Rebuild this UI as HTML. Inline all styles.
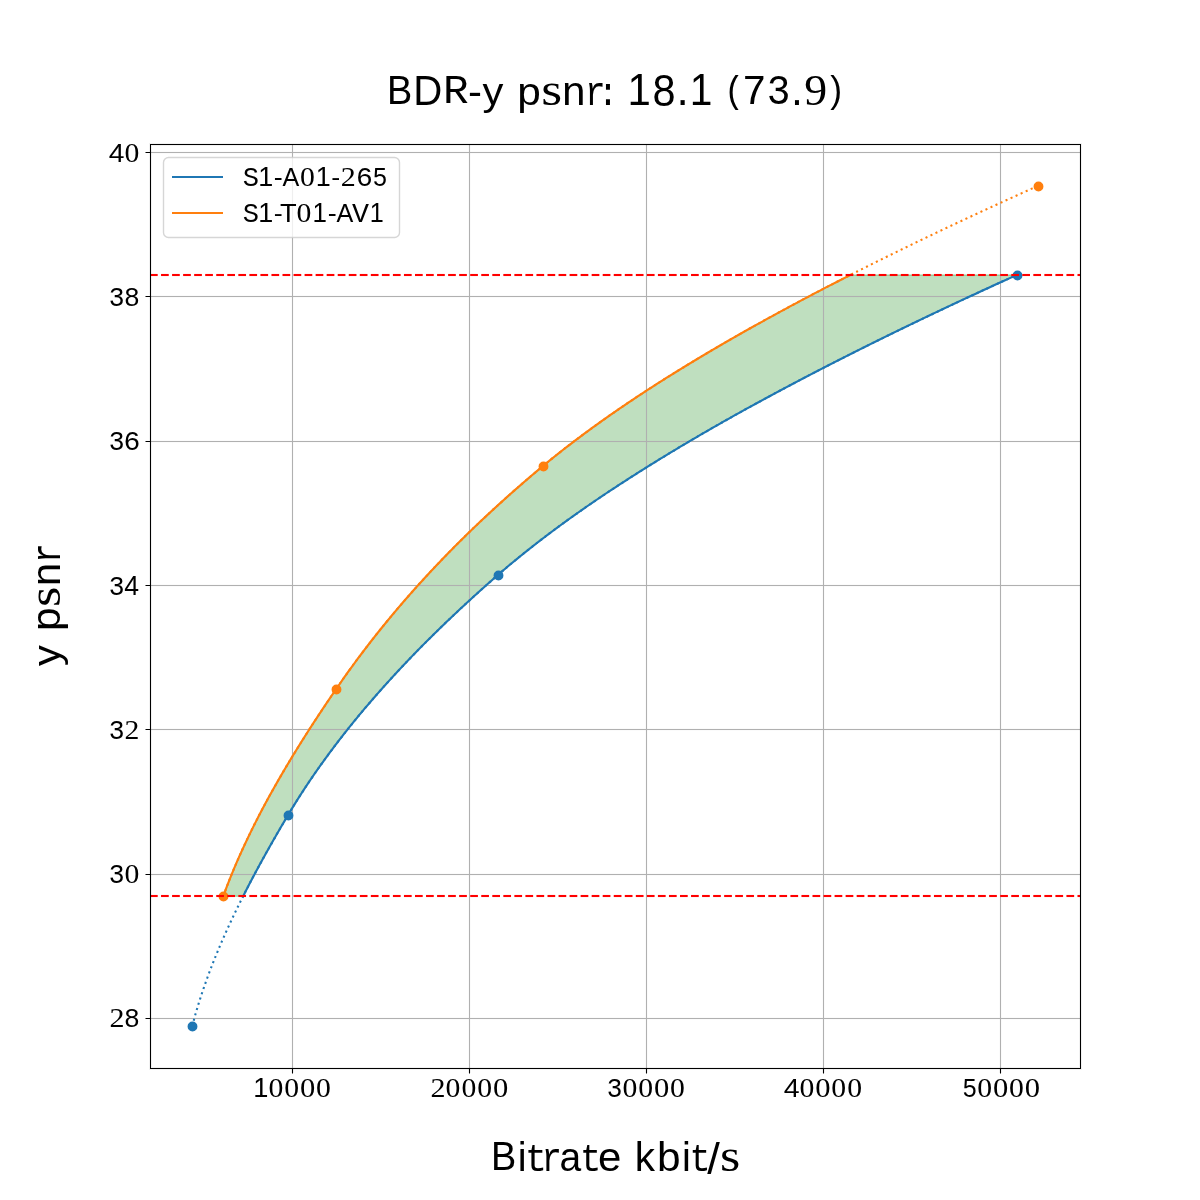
<!DOCTYPE html><html><head><meta charset="utf-8"><style>html,body{margin:0;padding:0;background:#fff;width:1200px;height:1200px;overflow:hidden}svg{display:block;will-change:transform}text{font-family:"Liberation Sans",sans-serif;fill:#000}text.mono{font-family:"Liberation Mono",monospace}text.serif{font-family:"Liberation Serif",serif}</style></head><body>
<svg width="1200" height="1200" viewBox="0 0 1200 1200">
<rect x="0" y="0" width="1200" height="1200" fill="#fff"/>
<polygon points="223.24,896.28 224.38,893.16 225.53,890.04 226.71,886.91 227.91,883.79 229.13,880.67 230.37,877.55 231.64,874.43 232.92,871.3 234.22,868.18 235.54,865.06 236.88,861.94 238.24,858.81 239.62,855.69 241.02,852.57 242.44,849.45 243.88,846.33 245.33,843.2 246.81,840.08 248.3,836.96 249.81,833.84 251.33,830.71 252.88,827.59 254.44,824.47 256.02,821.35 257.62,818.23 259.23,815.1 260.86,811.98 262.51,808.86 264.17,805.74 265.85,802.61 267.54,799.49 269.25,796.37 270.98,793.25 272.72,790.12 274.47,787 276.25,783.88 278.03,780.76 279.83,777.64 281.65,774.51 283.47,771.39 285.32,768.27 287.17,765.15 289.04,762.02 290.92,758.9 292.82,755.78 294.73,752.66 296.65,749.54 298.59,746.41 300.53,743.29 302.49,740.17 304.46,737.05 306.45,733.92 308.44,730.8 310.45,727.68 312.46,724.56 314.49,721.44 316.53,718.31 318.58,715.19 320.64,712.07 322.71,708.95 324.79,705.82 326.88,702.7 328.98,699.58 331.09,696.46 333.21,693.34 335.34,690.21 337.48,687.09 339.64,683.97 341.81,680.85 344.01,677.72 346.22,674.6 348.45,671.48 350.71,668.36 352.98,665.24 355.27,662.11 357.58,658.99 359.91,655.87 362.26,652.75 364.63,649.62 367.02,646.5 369.42,643.38 371.85,640.26 374.3,637.14 376.77,634.01 379.26,630.89 381.78,627.77 384.31,624.65 386.86,621.52 389.44,618.4 392.03,615.28 394.65,612.16 397.29,609.04 399.95,605.91 402.63,602.79 405.33,599.67 408.05,596.55 410.8,593.42 413.57,590.3 416.36,587.18 419.17,584.06 422.01,580.94 424.87,577.81 427.75,574.69 430.65,571.57 433.58,568.45 436.53,565.32 439.5,562.2 442.49,559.08 445.51,555.96 448.56,552.84 451.62,549.71 454.71,546.59 457.82,543.47 460.96,540.35 464.12,537.22 467.31,534.1 470.52,530.98 473.75,527.86 477.01,524.74 480.29,521.61 483.6,518.49 486.93,515.37 490.29,512.25 493.68,509.12 497.08,506 500.52,502.88 503.98,499.76 507.46,496.64 510.97,493.51 514.5,490.39 518.07,487.27 521.65,484.15 525.27,481.02 528.91,477.9 532.57,474.78 536.27,471.66 539.99,468.53 543.73,465.41 547.52,462.29 551.35,459.17 555.23,456.05 559.15,452.92 563.12,449.8 567.13,446.68 571.19,443.56 575.29,440.43 579.44,437.31 583.63,434.19 587.86,431.07 592.14,427.95 596.46,424.82 600.82,421.7 605.23,418.58 609.68,415.46 614.17,412.33 618.7,409.21 623.28,406.09 627.9,402.97 632.56,399.85 637.26,396.72 642,393.6 646.78,390.48 651.6,387.36 656.47,384.23 661.37,381.11 666.31,377.99 671.3,374.87 676.32,371.75 681.38,368.62 686.48,365.5 691.62,362.38 696.8,359.26 702.01,356.13 707.27,353.01 712.56,349.89 717.89,346.77 723.25,343.65 728.66,340.52 734.1,337.4 739.58,334.28 745.09,331.16 750.64,328.03 756.23,324.91 761.85,321.79 767.51,318.67 773.2,315.55 778.93,312.42 784.7,309.3 790.49,306.18 796.33,303.06 802.19,299.93 808.1,296.81 814.03,293.69 820,290.57 826,287.45 832.03,284.32 838.1,281.2 844.2,278.08 850.34,274.96 1016.66,274.96 1009.79,278.08 1002.95,281.2 996.13,284.32 989.33,287.45 982.56,290.57 975.81,293.69 969.09,296.81 962.4,299.93 955.73,303.06 949.08,306.18 942.47,309.3 935.87,312.42 929.31,315.55 922.77,318.67 916.26,321.79 909.77,324.91 903.32,328.03 896.89,331.16 890.49,334.28 884.11,337.4 877.77,340.52 871.45,343.65 865.16,346.77 858.9,349.89 852.67,353.01 846.47,356.13 840.3,359.26 834.16,362.38 828.05,365.5 821.97,368.62 815.92,371.75 809.9,374.87 803.91,377.99 797.95,381.11 792.02,384.23 786.13,387.36 780.26,390.48 774.43,393.6 768.63,396.72 762.86,399.85 757.13,402.97 751.43,406.09 745.76,409.21 740.12,412.33 734.52,415.46 728.95,418.58 723.42,421.7 717.92,424.82 712.45,427.95 707.02,431.07 701.62,434.19 696.26,437.31 690.93,440.43 685.64,443.56 680.39,446.68 675.17,449.8 669.98,452.92 664.83,456.05 659.72,459.17 654.65,462.29 649.61,465.41 644.61,468.53 639.65,471.66 634.72,474.78 629.84,477.9 624.99,481.02 620.17,484.15 615.4,487.27 610.67,490.39 605.97,493.51 601.32,496.64 596.7,499.76 592.12,502.88 587.58,506 583.09,509.12 578.63,512.25 574.21,515.37 569.83,518.49 565.5,521.61 561.2,524.74 556.95,527.86 552.74,530.98 548.57,534.1 544.44,537.22 540.35,540.35 536.31,543.47 532.31,546.59 528.35,549.71 524.44,552.84 520.56,555.96 516.73,559.08 512.95,562.2 509.21,565.32 505.51,568.45 501.86,571.57 498.25,574.69 494.67,577.81 491.12,580.94 487.59,584.06 484.08,587.18 480.6,590.3 477.13,593.42 473.69,596.55 470.27,599.67 466.87,602.79 463.49,605.91 460.13,609.04 456.8,612.16 453.48,615.28 450.19,618.4 446.92,621.52 443.68,624.65 440.45,627.77 437.25,630.89 434.07,634.01 430.91,637.14 427.77,640.26 424.66,643.38 421.56,646.5 418.49,649.62 415.44,652.75 412.42,655.87 409.41,658.99 406.43,662.11 403.47,665.24 400.53,668.36 397.62,671.48 394.73,674.6 391.86,677.72 389.01,680.85 386.18,683.97 383.38,687.09 380.6,690.21 377.84,693.34 375.1,696.46 372.39,699.58 369.7,702.7 367.03,705.82 364.38,708.95 361.76,712.07 359.16,715.19 356.58,718.31 354.02,721.44 351.49,724.56 348.98,727.68 346.49,730.8 344.03,733.92 341.59,737.05 339.17,740.17 336.77,743.29 334.4,746.41 332.05,749.54 329.72,752.66 327.42,755.78 325.14,758.9 322.88,762.02 320.64,765.15 318.43,768.27 316.24,771.39 314.07,774.51 311.93,777.64 309.81,780.76 307.71,783.88 305.64,787 303.59,790.12 301.56,793.25 299.56,796.37 297.57,799.49 295.62,802.61 293.68,805.74 291.77,808.86 289.88,811.98 288.02,815.1 286.17,818.23 284.33,821.35 282.49,824.47 280.67,827.59 278.85,830.71 277.04,833.84 275.25,836.96 273.46,840.08 271.68,843.2 269.91,846.33 268.15,849.45 266.4,852.57 264.66,855.69 262.93,858.81 261.21,861.94 259.5,865.06 257.81,868.18 256.12,871.3 254.45,874.43 252.79,877.55 251.14,880.67 249.51,883.79 247.89,886.91 246.28,890.04 244.68,893.16 243.1,896.28" fill="#008000" fill-opacity="0.25" stroke="#008000" stroke-opacity="0.25" stroke-width="1.3889" stroke-linejoin="round"/>
<path d="M292.5 144V1068M469.5 144V1068M646.5 144V1068M823.5 144V1068M1000.5 144V1068M150 152.5H1080M150 296.5H1080M150 441.5H1080M150 585.5H1080M150 729.5H1080M150 874.5H1080M150 1018.5H1080" stroke="#b0b0b0" stroke-width="1" fill="none"/>
<path d="M291.5 144V1068M293.5 144V1068M468.5 144V1068M470.5 144V1068M645.5 144V1068M647.5 144V1068M822.5 144V1068M824.5 144V1068M999.5 144V1068M1001.5 144V1068M150 151.5H1080M150 153.5H1080M150 295.5H1080M150 297.5H1080M150 440.5H1080M150 442.5H1080M150 584.5H1080M150 586.5H1080M150 728.5H1080M150 730.5H1080M150 873.5H1080M150 875.5H1080M150 1017.5H1080M150 1019.5H1080" stroke="#b0b0b0" stroke-opacity="0.0555" stroke-width="1" fill="none"/>
<g>
<polyline points="243.1,896.28 244.68,893.16 246.28,890.04 247.89,886.91 249.51,883.79 251.14,880.67 252.79,877.55 254.45,874.43 256.12,871.3 257.81,868.18 259.5,865.06 261.21,861.94 262.93,858.81 264.66,855.69 266.4,852.57 268.15,849.45 269.91,846.33 271.68,843.2 273.46,840.08 275.25,836.96 277.04,833.84 278.85,830.71 280.67,827.59 282.49,824.47 284.33,821.35 286.17,818.23 288.02,815.1 289.88,811.98 291.77,808.86 293.68,805.74 295.62,802.61 297.57,799.49 299.56,796.37 301.56,793.25 303.59,790.12 305.64,787 307.71,783.88 309.81,780.76 311.93,777.64 314.07,774.51 316.24,771.39 318.43,768.27 320.64,765.15 322.88,762.02 325.14,758.9 327.42,755.78 329.72,752.66 332.05,749.54 334.4,746.41 336.77,743.29 339.17,740.17 341.59,737.05 344.03,733.92 346.49,730.8 348.98,727.68 351.49,724.56 354.02,721.44 356.58,718.31 359.16,715.19 361.76,712.07 364.38,708.95 367.03,705.82 369.7,702.7 372.39,699.58 375.1,696.46 377.84,693.34 380.6,690.21 383.38,687.09 386.18,683.97 389.01,680.85 391.86,677.72 394.73,674.6 397.62,671.48 400.53,668.36 403.47,665.24 406.43,662.11 409.41,658.99 412.42,655.87 415.44,652.75 418.49,649.62 421.56,646.5 424.66,643.38 427.77,640.26 430.91,637.14 434.07,634.01 437.25,630.89 440.45,627.77 443.68,624.65 446.92,621.52 450.19,618.4 453.48,615.28 456.8,612.16 460.13,609.04 463.49,605.91 466.87,602.79 470.27,599.67 473.69,596.55 477.13,593.42 480.6,590.3 484.08,587.18 487.59,584.06 491.12,580.94 494.67,577.81 498.25,574.69 501.86,571.57 505.51,568.45 509.21,565.32 512.95,562.2 516.73,559.08 520.56,555.96 524.44,552.84 528.35,549.71 532.31,546.59 536.31,543.47 540.35,540.35 544.44,537.22 548.57,534.1 552.74,530.98 556.95,527.86 561.2,524.74 565.5,521.61 569.83,518.49 574.21,515.37 578.63,512.25 583.09,509.12 587.58,506 592.12,502.88 596.7,499.76 601.32,496.64 605.97,493.51 610.67,490.39 615.4,487.27 620.17,484.15 624.99,481.02 629.84,477.9 634.72,474.78 639.65,471.66 644.61,468.53 649.61,465.41 654.65,462.29 659.72,459.17 664.83,456.05 669.98,452.92 675.17,449.8 680.39,446.68 685.64,443.56 690.93,440.43 696.26,437.31 701.62,434.19 707.02,431.07 712.45,427.95 717.92,424.82 723.42,421.7 728.95,418.58 734.52,415.46 740.12,412.33 745.76,409.21 751.43,406.09 757.13,402.97 762.86,399.85 768.63,396.72 774.43,393.6 780.26,390.48 786.13,387.36 792.02,384.23 797.95,381.11 803.91,377.99 809.9,374.87 815.92,371.75 821.97,368.62 828.05,365.5 834.16,362.38 840.3,359.26 846.47,356.13 852.67,353.01 858.9,349.89 865.16,346.77 871.45,343.65 877.77,340.52 884.11,337.4 890.49,334.28 896.89,331.16 903.32,328.03 909.77,324.91 916.26,321.79 922.77,318.67 929.31,315.55 935.87,312.42 942.47,309.3 949.08,306.18 955.73,303.06 962.4,299.93 969.09,296.81 975.81,293.69 982.56,290.57 989.33,287.45 996.13,284.32 1002.95,281.2 1009.79,278.08 1016.66,274.96" fill="none" stroke="#1f77b4" stroke-width="2.0833" stroke-linejoin="round" stroke-linecap="square"/>
<polyline points="192.27,1026 192.93,1023.49 193.6,1020.98 194.28,1018.46 194.98,1015.95 195.69,1013.44 196.42,1010.93 197.16,1008.42 197.92,1005.91 198.69,1003.39 199.48,1000.88 200.28,998.37 201.09,995.86 201.92,993.35 202.76,990.83 203.61,988.32 204.48,985.81 205.36,983.3 206.25,980.79 207.16,978.27 208.08,975.76 209.01,973.25 209.95,970.74 210.91,968.23 211.88,965.72 212.86,963.2 213.86,960.69 214.86,958.18 215.88,955.67 216.91,953.16 217.95,950.64 219,948.13 220.07,945.62 221.14,943.11 222.23,940.6 223.33,938.09 224.44,935.57 225.55,933.06 226.68,930.55 227.82,928.04 228.98,925.53 230.14,923.01 231.31,920.5 232.49,917.99 233.68,915.48 234.88,912.97 236.09,910.45 237.31,907.94 238.54,905.43 239.78,902.92 241.03,900.41 242.29,897.9 243.55,895.38 244.83,892.87 246.11,890.36 247.4,887.85 248.71,885.34 250.01,882.82 251.33,880.31 252.66,877.8 253.99,875.29 255.33,872.78 256.68,870.27 258.04,867.75 259.4,865.24 260.78,862.73 262.15,860.22 263.54,857.71 264.93,855.19 266.33,852.68 267.74,850.17 269.15,847.66 270.57,845.15 272,842.63 273.43,840.12 274.87,837.61 276.32,835.1 277.77,832.59 279.22,830.08 280.69,827.56 282.15,825.05 283.63,822.54 285.1,820.03 286.59,817.52 288.08,815 289.58,812.49 291.09,809.98 292.62,807.47 294.16,804.96 295.72,802.45 297.3,799.93 298.89,797.42 300.49,794.91 302.11,792.4 303.74,789.89 305.39,787.37 307.06,784.86 308.74,782.35 310.43,779.84 312.14,777.33 313.87,774.81 315.6,772.3 317.36,769.79 319.13,767.28 320.91,764.77 322.71,762.26 324.53,759.74 326.35,757.23 328.2,754.72 330.06,752.21 331.93,749.7 333.82,747.18 335.72,744.67 337.64,742.16 339.57,739.65 341.52,737.14 343.48,734.63 345.46,732.11 347.45,729.6 349.45,727.09 351.48,724.58 353.51,722.07 355.56,719.55 357.63,717.04 359.71,714.53 361.8,712.02 363.91,709.51 366.03,706.99 368.17,704.48 370.33,701.97 372.49,699.46 374.67,696.95 376.87,694.44 379.08,691.92 381.31,689.41 383.55,686.9 385.8,684.39 388.07,681.88 390.36,679.36 392.65,676.85 394.97,674.34 397.29,671.83 399.64,669.32 401.99,666.81 404.36,664.29 406.75,661.78 409.15,659.27 411.56,656.76 413.99,654.25 416.43,651.73 418.89,649.22 421.36,646.71 423.84,644.2 426.34,641.69 428.86,639.17 431.39,636.66 433.93,634.15 436.48,631.64 439.06,629.13 441.64,626.62 444.24,624.1 446.85,621.59 449.48,619.08 452.12,616.57 454.78,614.06 457.45,611.54 460.13,609.03 462.83,606.52 465.55,604.01 468.27,601.5 471.01,598.99 473.77,596.47 476.54,593.96 479.32,591.45 482.12,588.94 484.93,586.43 487.75,583.91 490.59,581.4 493.45,578.89 496.31,576.38 499.2,573.87 502.11,571.35 505.04,568.84 508.01,566.33 511.01,563.82 514.03,561.31 517.08,558.8 520.16,556.28 523.27,553.77 526.41,551.26 529.57,548.75 532.76,546.24 535.98,543.72 539.23,541.21 542.5,538.7 545.8,536.19 549.13,533.68 552.49,531.17 555.87,528.65 559.28,526.14 562.72,523.63 566.18,521.12 569.67,518.61 573.19,516.09 576.73,513.58 580.3,511.07 583.9,508.56 587.52,506.05 591.17,503.53 594.84,501.02 598.54,498.51 602.26,496 606.01,493.49 609.78,490.98 613.58,488.46 617.41,485.95 621.26,483.44 625.13,480.93 629.03,478.42 632.96,475.9 636.91,473.39 640.88,470.88 644.88,468.37 648.9,465.86 652.94,463.35 657.01,460.83 661.11,458.32 665.22,455.81 669.36,453.3 673.53,450.79 677.71,448.27 681.93,445.76 686.16,443.25 690.42,440.74 694.7,438.23 699,435.71 703.32,433.2 707.67,430.69 712.04,428.18 716.43,425.67 720.85,423.16 725.29,420.64 729.75,418.13 734.23,415.62 738.73,413.11 743.26,410.6 747.8,408.08 752.37,405.57 756.96,403.06 761.57,400.55 766.2,398.04 770.85,395.53 775.53,393.01 780.22,390.5 784.93,387.99 789.67,385.48 794.43,382.97 799.2,380.45 804,377.94 808.81,375.43 813.65,372.92 818.51,370.41 823.38,367.89 828.28,365.38 833.19,362.87 838.13,360.36 843.08,357.85 848.06,355.34 853.05,352.82 858.06,350.31 863.09,347.8 868.14,345.29 873.21,342.78 878.29,340.26 883.4,337.75 888.52,335.24 893.66,332.73 898.82,330.22 904,327.71 909.19,325.19 914.4,322.68 919.63,320.17 924.88,317.66 930.15,315.15 935.43,312.63 940.73,310.12 946.05,307.61 951.38,305.1 956.73,302.59 962.1,300.07 967.48,297.56 972.88,295.05 978.3,292.54 983.73,290.03 989.18,287.52 994.64,285 1000.13,282.49 1005.62,279.98 1011.13,277.47 1016.66,274.96" fill="none" stroke="#1f77b4" stroke-width="2.0833" stroke-dasharray="2.0833 3.4375" stroke-linejoin="round"/>
<circle cx="192.5" cy="1026.5" r="4.25" fill="#1f77b4" stroke="#1f77b4" stroke-width="1.3889"/>
<circle cx="288.5" cy="815.5" r="4.25" fill="#1f77b4" stroke="#1f77b4" stroke-width="1.3889"/>
<circle cx="498.5" cy="575.5" r="4.25" fill="#1f77b4" stroke="#1f77b4" stroke-width="1.3889"/>
<circle cx="1017.5" cy="275.5" r="4.25" fill="#1f77b4" stroke="#1f77b4" stroke-width="1.3889"/>
<polyline points="223.24,896.28 224.38,893.16 225.53,890.04 226.71,886.91 227.91,883.79 229.13,880.67 230.37,877.55 231.64,874.43 232.92,871.3 234.22,868.18 235.54,865.06 236.88,861.94 238.24,858.81 239.62,855.69 241.02,852.57 242.44,849.45 243.88,846.33 245.33,843.2 246.81,840.08 248.3,836.96 249.81,833.84 251.33,830.71 252.88,827.59 254.44,824.47 256.02,821.35 257.62,818.23 259.23,815.1 260.86,811.98 262.51,808.86 264.17,805.74 265.85,802.61 267.54,799.49 269.25,796.37 270.98,793.25 272.72,790.12 274.47,787 276.25,783.88 278.03,780.76 279.83,777.64 281.65,774.51 283.47,771.39 285.32,768.27 287.17,765.15 289.04,762.02 290.92,758.9 292.82,755.78 294.73,752.66 296.65,749.54 298.59,746.41 300.53,743.29 302.49,740.17 304.46,737.05 306.45,733.92 308.44,730.8 310.45,727.68 312.46,724.56 314.49,721.44 316.53,718.31 318.58,715.19 320.64,712.07 322.71,708.95 324.79,705.82 326.88,702.7 328.98,699.58 331.09,696.46 333.21,693.34 335.34,690.21 337.48,687.09 339.64,683.97 341.81,680.85 344.01,677.72 346.22,674.6 348.45,671.48 350.71,668.36 352.98,665.24 355.27,662.11 357.58,658.99 359.91,655.87 362.26,652.75 364.63,649.62 367.02,646.5 369.42,643.38 371.85,640.26 374.3,637.14 376.77,634.01 379.26,630.89 381.78,627.77 384.31,624.65 386.86,621.52 389.44,618.4 392.03,615.28 394.65,612.16 397.29,609.04 399.95,605.91 402.63,602.79 405.33,599.67 408.05,596.55 410.8,593.42 413.57,590.3 416.36,587.18 419.17,584.06 422.01,580.94 424.87,577.81 427.75,574.69 430.65,571.57 433.58,568.45 436.53,565.32 439.5,562.2 442.49,559.08 445.51,555.96 448.56,552.84 451.62,549.71 454.71,546.59 457.82,543.47 460.96,540.35 464.12,537.22 467.31,534.1 470.52,530.98 473.75,527.86 477.01,524.74 480.29,521.61 483.6,518.49 486.93,515.37 490.29,512.25 493.68,509.12 497.08,506 500.52,502.88 503.98,499.76 507.46,496.64 510.97,493.51 514.5,490.39 518.07,487.27 521.65,484.15 525.27,481.02 528.91,477.9 532.57,474.78 536.27,471.66 539.99,468.53 543.73,465.41 547.52,462.29 551.35,459.17 555.23,456.05 559.15,452.92 563.12,449.8 567.13,446.68 571.19,443.56 575.29,440.43 579.44,437.31 583.63,434.19 587.86,431.07 592.14,427.95 596.46,424.82 600.82,421.7 605.23,418.58 609.68,415.46 614.17,412.33 618.7,409.21 623.28,406.09 627.9,402.97 632.56,399.85 637.26,396.72 642,393.6 646.78,390.48 651.6,387.36 656.47,384.23 661.37,381.11 666.31,377.99 671.3,374.87 676.32,371.75 681.38,368.62 686.48,365.5 691.62,362.38 696.8,359.26 702.01,356.13 707.27,353.01 712.56,349.89 717.89,346.77 723.25,343.65 728.66,340.52 734.1,337.4 739.58,334.28 745.09,331.16 750.64,328.03 756.23,324.91 761.85,321.79 767.51,318.67 773.2,315.55 778.93,312.42 784.7,309.3 790.49,306.18 796.33,303.06 802.19,299.93 808.1,296.81 814.03,293.69 820,290.57 826,287.45 832.03,284.32 838.1,281.2 844.2,278.08 850.34,274.96" fill="none" stroke="#ff7f0e" stroke-width="2.0833" stroke-linejoin="round" stroke-linecap="square"/>
<polyline points="223.24,896.28 224.1,893.91 224.98,891.53 225.87,889.15 226.77,886.78 227.68,884.4 228.6,882.03 229.54,879.65 230.48,877.28 231.44,874.9 232.41,872.53 233.4,870.15 234.39,867.77 235.4,865.4 236.41,863.02 237.44,860.65 238.48,858.27 239.53,855.9 240.59,853.52 241.67,851.15 242.75,848.77 243.85,846.39 244.95,844.02 246.07,841.64 247.19,839.27 248.33,836.89 249.48,834.52 250.63,832.14 251.8,829.77 252.98,827.39 254.17,825.02 255.37,822.64 256.57,820.26 257.79,817.89 259.02,815.51 260.26,813.14 261.5,810.76 262.76,808.39 264.02,806.01 265.3,803.64 266.58,801.26 267.87,798.88 269.18,796.51 270.49,794.13 271.81,791.76 273.14,789.38 274.47,787.01 275.82,784.63 277.17,782.26 278.54,779.88 279.91,777.5 281.29,775.13 282.67,772.75 284.07,770.38 285.47,768 286.89,765.63 288.31,763.25 289.73,760.88 291.17,758.5 292.61,756.13 294.06,753.75 295.52,751.37 296.98,749 298.46,746.62 299.94,744.25 301.42,741.87 302.92,739.5 304.42,737.12 305.92,734.75 307.44,732.37 308.96,729.99 310.49,727.62 312.02,725.24 313.56,722.87 315.11,720.49 316.66,718.12 318.22,715.74 319.78,713.37 321.36,710.99 322.93,708.61 324.52,706.24 326.1,703.86 327.7,701.49 329.3,699.11 330.9,696.74 332.52,694.36 334.13,691.99 335.75,689.61 337.38,687.23 339.02,684.86 340.67,682.48 342.33,680.11 344,677.73 345.68,675.36 347.38,672.98 349.08,670.61 350.8,668.23 352.52,665.86 354.26,663.48 356.01,661.1 357.77,658.73 359.54,656.35 361.33,653.98 363.12,651.6 364.93,649.23 366.75,646.85 368.58,644.48 370.42,642.1 372.27,639.72 374.14,637.35 376.01,634.97 377.9,632.6 379.8,630.22 381.71,627.85 383.64,625.47 385.57,623.1 387.52,620.72 389.48,618.34 391.46,615.97 393.44,613.59 395.44,611.22 397.45,608.84 399.47,606.47 401.51,604.09 403.55,601.72 405.61,599.34 407.69,596.97 409.77,594.59 411.87,592.21 413.98,589.84 416.11,587.46 418.24,585.09 420.39,582.71 422.55,580.34 424.73,577.96 426.92,575.59 429.12,573.21 431.34,570.83 433.57,568.46 435.81,566.08 438.06,563.71 440.33,561.33 442.61,558.96 444.91,556.58 447.22,554.21 449.54,551.83 451.88,549.45 454.23,547.08 456.59,544.7 458.97,542.33 461.36,539.95 463.76,537.58 466.18,535.2 468.62,532.83 471.06,530.45 473.53,528.08 476,525.7 478.49,523.32 481,520.95 483.51,518.57 486.05,516.2 488.59,513.82 491.16,511.45 493.73,509.07 496.32,506.7 498.93,504.32 501.55,501.94 504.18,499.57 506.83,497.19 509.5,494.82 512.18,492.44 514.87,490.07 517.58,487.69 520.31,485.32 523.05,482.94 525.8,480.56 528.57,478.19 531.36,475.81 534.16,473.44 536.97,471.06 539.8,468.69 542.65,466.31 545.52,463.94 548.41,461.56 551.33,459.18 554.27,456.81 557.25,454.43 560.25,452.06 563.27,449.68 566.32,447.31 569.4,444.93 572.5,442.56 575.63,440.18 578.78,437.81 581.96,435.43 585.16,433.05 588.39,430.68 591.65,428.3 594.93,425.93 598.23,423.55 601.56,421.18 604.92,418.8 608.29,416.43 611.7,414.05 615.13,411.67 618.58,409.3 622.06,406.92 625.56,404.55 629.08,402.17 632.63,399.8 636.2,397.42 639.8,395.05 643.42,392.67 647.06,390.29 650.73,387.92 654.42,385.54 658.14,383.17 661.87,380.79 665.63,378.42 669.42,376.04 673.22,373.67 677.05,371.29 680.9,368.92 684.78,366.54 688.68,364.16 692.59,361.79 696.54,359.41 700.5,357.04 704.48,354.66 708.49,352.29 712.52,349.91 716.57,347.54 720.65,345.16 724.74,342.78 728.86,340.41 732.99,338.03 737.15,335.66 741.33,333.28 745.53,330.91 749.76,328.53 754,326.16 758.26,323.78 762.55,321.4 766.85,319.03 771.18,316.65 775.52,314.28 779.89,311.9 784.28,309.53 788.68,307.15 793.11,304.78 797.56,302.4 802.02,300.03 806.51,297.65 811.01,295.27 815.54,292.9 820.08,290.52 824.65,288.15 829.23,285.77 833.83,283.4 838.45,281.02 843.09,278.65 847.75,276.27 852.43,273.89 857.13,271.52 861.84,269.14 866.57,266.77 871.32,264.39 876.09,262.02 880.88,259.64 885.69,257.27 890.51,254.89 895.35,252.51 900.21,250.14 905.09,247.76 909.98,245.39 914.89,243.01 919.82,240.64 924.77,238.26 929.73,235.89 934.71,233.51 939.71,231.13 944.72,228.76 949.75,226.38 954.8,224.01 959.86,221.63 964.94,219.26 970.04,216.88 975.15,214.51 980.28,212.13 985.42,209.76 990.58,207.38 995.76,205 1000.95,202.63 1006.16,200.25 1011.38,197.88 1016.62,195.5 1021.87,193.13 1027.14,190.75 1032.43,188.38 1037.73,186" fill="none" stroke="#ff7f0e" stroke-width="2.0833" stroke-dasharray="2.0833 3.4375" stroke-linejoin="round"/>
<circle cx="223.5" cy="896.5" r="4.25" fill="#ff7f0e" stroke="#ff7f0e" stroke-width="1.3889"/>
<circle cx="336.5" cy="689.5" r="4.25" fill="#ff7f0e" stroke="#ff7f0e" stroke-width="1.3889"/>
<circle cx="543.5" cy="466.5" r="4.25" fill="#ff7f0e" stroke="#ff7f0e" stroke-width="1.3889"/>
<circle cx="1038.5" cy="186.5" r="4.25" fill="#ff7f0e" stroke="#ff7f0e" stroke-width="1.3889"/>
<path d="M150 275H1080M150 896H1080" stroke="#ff0000" stroke-width="2" stroke-dasharray="7.7083 3.3333" fill="none"/>
<path d="M150 273.5H1080M150 276.5H1080M150 894.5H1080M150 897.5H1080" stroke="#ff0000" stroke-opacity="0.0417" stroke-width="1" stroke-dasharray="7.7083 3.3333" fill="none"/>
</g>
<rect x="150.5" y="144.5" width="930" height="924" fill="none" stroke="#000" stroke-width="1"/>
<rect x="149.5" y="143.5" width="932" height="926" fill="none" stroke="#000" stroke-opacity="0.0555" stroke-width="1"/>
<rect x="151.5" y="145.5" width="928" height="922" fill="none" stroke="#000" stroke-opacity="0.0555" stroke-width="1"/>
<path d="M292.5 1068.5V1073.5M469.5 1068.5V1073.5M646.5 1068.5V1073.5M823.5 1068.5V1073.5M1000.5 1068.5V1073.5M150.5 152.5H145.5M150.5 296.5H145.5M150.5 441.5H145.5M150.5 585.5H145.5M150.5 729.5H145.5M150.5 874.5H145.5M150.5 1018.5H145.5" stroke="#000" stroke-width="1.1111" fill="none"/>
<rect x="163.5" y="157.5" width="236" height="80" rx="5" ry="5" fill="#fff" fill-opacity="0.8" stroke="#cccccc" stroke-opacity="0.8" stroke-width="1.3889"/>
<path d="M172 177H223" stroke="#1f77b4" stroke-width="2.0833"/>
<path d="M172 213H223" stroke="#ff7f0e" stroke-width="2.0833"/>
<g>
<g transform="translate(251.853 1097.305)"><text transform="matrix(1.0889 0 0 1.1020 1.280 -0.635)" font-size="25.000">1</text><text class="serif" transform="matrix(1.1889 0 0 1.1208 16.547 -0.795)" font-size="25.000">0</text><text class="serif" transform="matrix(1.1889 0 0 1.1208 32.327 -0.795)" font-size="25.000">0</text><text class="serif" transform="matrix(1.2246 0 0 1.1208 48.135 -0.795)" font-size="25.000">0</text><text class="serif" transform="matrix(1.1889 0 0 1.1208 64.139 -0.795)" font-size="25.000">0</text></g>
<g transform="translate(428.769 1097.305)"><text class="serif" transform="matrix(1.2009 0 0 1.1209 1.680 -0.750)" font-size="25.000">2</text><text class="serif" transform="matrix(1.1889 0 0 1.1208 16.647 -0.795)" font-size="25.000">0</text><text class="serif" transform="matrix(1.1889 0 0 1.1208 32.677 -0.795)" font-size="25.000">0</text><text class="serif" transform="matrix(1.1889 0 0 1.1208 48.408 -0.795)" font-size="25.000">0</text><text class="serif" transform="matrix(1.2246 0 0 1.1208 64.166 -0.795)" font-size="25.000">0</text></g>
<g transform="translate(605.696 1097.305)"><text class="mono" transform="matrix(1.0427 0 0 1.1144 1.070 -0.793)" font-size="25.000">3</text><text class="serif" transform="matrix(1.1889 0 0 1.1208 16.772 -0.795)" font-size="25.000">0</text><text class="serif" transform="matrix(1.1889 0 0 1.1208 32.502 -0.795)" font-size="25.000">0</text><text class="serif" transform="matrix(1.2246 0 0 1.1208 48.260 -0.795)" font-size="25.000">0</text><text class="serif" transform="matrix(1.1889 0 0 1.1208 64.189 -0.795)" font-size="25.000">0</text></g>
<g transform="translate(782.379 1097.305)"><text transform="matrix(1.1403 0 0 1.0596 1.250 -0.750)" font-size="25.000">4</text><text class="serif" transform="matrix(1.1889 0 0 1.1208 17.122 -0.670)" font-size="25.000">0</text><text class="serif" transform="matrix(1.2246 0 0 1.1208 32.879 -0.795)" font-size="25.000">0</text><text class="serif" transform="matrix(1.1889 0 0 1.1208 48.758 -0.795)" font-size="25.000">0</text><text class="serif" transform="matrix(1.1889 0 0 1.1208 64.789 -0.795)" font-size="25.000">0</text></g>
<g transform="translate(960.671 1097.305)"><text class="mono" transform="matrix(0.9933 0 0 1.1118 1.561 -0.792)" font-size="25.000">5</text><text class="serif" transform="matrix(1.1889 0 0 1.1208 16.472 -0.795)" font-size="25.000">0</text><text class="serif" transform="matrix(1.2246 0 0 1.1208 32.354 -0.795)" font-size="25.000">0</text><text class="serif" transform="matrix(1.1889 0 0 1.1208 48.233 -0.795)" font-size="25.000">0</text><text class="serif" transform="matrix(1.2246 0 0 1.1208 64.041 -0.795)" font-size="25.000">0</text></g>
<g transform="translate(108.029 162.055)"><text transform="matrix(1.1293 0 0 1.0596 0.625 -0.500)" font-size="25.000">4</text><text class="serif" transform="matrix(1.1889 0 0 1.1208 16.422 -0.545)" font-size="25.000">0</text></g>
<g transform="translate(108.346 306.055)"><text class="mono" transform="matrix(1.0529 0 0 1.1144 0.494 -0.543)" font-size="25.000">3</text><text transform="matrix(1.0656 0 0 1.0683 16.145 -0.532)" font-size="25.000">8</text></g>
<g transform="translate(108.346 450.055)"><text class="mono" transform="matrix(1.0529 0 0 1.1144 0.494 -0.543)" font-size="25.000">3</text><text class="mono" transform="matrix(1.1237 0 0 1.1144 15.091 -0.543)" font-size="25.000">6</text></g>
<g transform="translate(108.346 595.055)"><text class="mono" transform="matrix(1.0529 0 0 1.1144 0.494 -0.543)" font-size="25.000">3</text><text transform="matrix(1.0635 0 0 1.1351 15.808 -0.351)" font-size="25.000">4</text></g>
<g transform="translate(108.346 739.055)"><text class="mono" transform="matrix(1.0529 0 0 1.1144 0.494 -0.543)" font-size="25.000">3</text><text class="serif" transform="matrix(1.1893 0 0 1.1209 16.132 -0.500)" font-size="25.000">2</text></g>
<g transform="translate(108.346 883.055)"><text class="mono" transform="matrix(1.0529 0 0 1.1144 0.494 -0.543)" font-size="25.000">3</text><text class="serif" transform="matrix(1.1889 0 0 1.1208 16.122 -0.545)" font-size="25.000">0</text></g>
<g transform="translate(108.419 1027.055)"><text class="serif" transform="matrix(1.2009 0 0 1.1209 0.980 -0.500)" font-size="25.000">2</text><text transform="matrix(1.0656 0 0 1.0683 16.070 -0.532)" font-size="25.000">8</text></g>
<g transform="translate(242.102 186.055)"><text class="mono" transform="matrix(1.0837 0 0 1.1144 0.679 -0.543)" font-size="25.000">S</text><text transform="matrix(1.0785 0 0 1.1351 16.051 -0.351)" font-size="25.000">1</text><text transform="matrix(1.0780 0 0 1.0250 31.548 -0.542)" font-size="25.000">-</text><text transform="matrix(1.0074 0 0 1.0596 40.442 -0.500)" font-size="25.000">A</text><text class="serif" transform="matrix(1.1889 0 0 1.1208 57.789 -0.545)" font-size="25.000">0</text><text transform="matrix(1.0785 0 0 1.1351 73.610 -0.351)" font-size="25.000">1</text><text transform="matrix(1.0780 0 0 0.9545 89.108 -1.510)" font-size="25.000">-</text><text class="serif" transform="matrix(1.2009 0 0 1.1209 98.761 -0.500)" font-size="25.000">2</text><text class="mono" transform="matrix(1.1237 0 0 1.1144 113.872 -0.543)" font-size="25.000">6</text><text class="mono" transform="matrix(0.9949 0 0 1.1118 130.291 -0.542)" font-size="25.000">5</text></g>
<g transform="translate(242.102 222.055)"><text class="mono" transform="matrix(1.0837 0 0 1.1144 0.679 -0.543)" font-size="25.000">S</text><text transform="matrix(1.0785 0 0 1.1351 16.051 -0.351)" font-size="25.000">1</text><text transform="matrix(1.0780 0 0 0.9545 31.548 -1.510)" font-size="25.000">-</text><text transform="matrix(1.0907 0 0 1.0596 37.860 -0.500)" font-size="25.000">T</text><text class="serif" transform="matrix(1.1889 0 0 1.1208 54.333 -0.545)" font-size="25.000">0</text><text transform="matrix(1.0370 0 0 1.1351 70.332 -0.351)" font-size="25.000">1</text><text transform="matrix(1.0780 0 0 1.0250 85.527 -0.542)" font-size="25.000">-</text><text transform="matrix(1.0074 0 0 1.0596 94.296 -0.500)" font-size="25.000">A</text><text class="mono" transform="matrix(1.1325 0 0 1.1067 109.934 -0.500)" font-size="25.000">V</text><text transform="matrix(1.0068 0 0 1.1020 127.558 -0.385)" font-size="25.000">1</text></g>
<g transform="translate(385.683 105.008)"><text transform="matrix(0.9716 0 0 1.0596 1.192 -1.450)" font-size="38.889">B</text><text transform="matrix(1.0346 0 0 1.1020 27.461 -0.358)" font-size="38.889">D</text><text class="mono" transform="matrix(1.1000 0 0 1.0625 57.404 -1.892)" font-size="38.889">R</text><text transform="matrix(1.0780 0 0 1.0557 82.202 -0.372)" font-size="38.889">-</text><text transform="matrix(1.0739 0 0 0.9848 96.699 -0.171)" font-size="38.889">y</text><text class="mono" transform="matrix(1.0999 0 0 0.9979 130.550 -0.487)" font-size="38.889">p</text><text class="serif" transform="matrix(1.3798 0 0 1.1939 155.446 -0.478)" font-size="38.889">s</text><text class="mono" transform="matrix(1.0782 0 0 1.0408 175.554 -0.400)" font-size="38.889">n</text><text class="mono" transform="matrix(0.8836 0 0 1.0408 199.238 -0.450)" font-size="38.889">r</text><text class="mono" transform="matrix(0.8979 0 0 0.9787 211.784 -0.500)" font-size="38.889">:</text><text transform="matrix(1.0785 0 0 1.1351 241.740 0.009)" font-size="38.889">1</text><text transform="matrix(1.0656 0 0 1.1554 266.710 0.687)" font-size="38.889">8</text><text class="mono" transform="matrix(0.9338 0 0 0.8750 286.063 -0.428)" font-size="38.889">.</text><text transform="matrix(1.0471 0 0 1.1351 304.045 0.009)" font-size="38.889">1</text><text class="mono" transform="matrix(0.8611 0 0 0.9555 338.196 -3.459)" font-size="38.889">(</text><text class="mono" transform="matrix(1.0538 0 0 1.1067 356.198 -1.450)" font-size="38.889">7</text><text class="mono" transform="matrix(1.0124 0 0 1.1144 381.054 -1.448)" font-size="38.889">3</text><text class="mono" transform="matrix(0.8979 0 0 0.8495 400.713 -0.500)" font-size="38.889">.</text><text class="serif" transform="matrix(1.1785 0 0 1.1257 418.491 -0.402)" font-size="38.889">9</text><text transform="matrix(0.9143 0 0 0.9560 444.577 -3.445)" font-size="38.889">)</text></g>
<g transform="translate(489.683 1171.296)"><text transform="matrix(0.9716 0 0 1.0596 1.192 -1.775)" font-size="38.889">B</text><text transform="matrix(1.0222 0 0 1.0485 28.025 -0.750)" font-size="38.889">i</text><text class="mono" transform="matrix(0.9416 0 0 1.0003 35.211 -0.775)" font-size="38.889">t</text><text class="mono" transform="matrix(0.8751 0 0 1.0408 51.780 -0.700)" font-size="38.889">r</text><text transform="matrix(1.0018 0 0 1.0481 69.852 -0.722)" font-size="38.889">a</text><text class="mono" transform="matrix(0.9142 0 0 1.0003 90.198 -0.775)" font-size="38.889">t</text><text transform="matrix(1.0801 0 0 1.0481 108.297 -0.547)" font-size="38.889">e</text><text transform="matrix(1.0412 0 0 1.0485 145.113 -0.775)" font-size="38.889">k</text><text class="mono" transform="matrix(1.0999 0 0 1.0539 166.216 -0.625)" font-size="38.889">b</text><text transform="matrix(1.0222 0 0 1.0485 192.230 -0.750)" font-size="38.889">i</text><text class="mono" transform="matrix(0.9054 0 0 1.0108 199.830 -0.142)" font-size="38.889">t</text><text transform="matrix(1.1641 0 0 1.1190 217.529 2.308)" font-size="38.889">/</text><text class="serif" transform="matrix(1.3396 0 0 1.1939 230.211 -0.603)" font-size="38.889">s</text></g>
<g transform="translate(60.530 667.158) rotate(-90)"><text transform="matrix(1.0739 0 0 0.9848 1.181 -0.671)" font-size="38.889">y</text><text class="mono" transform="matrix(1.0999 0 0 1.0288 35.282 -0.988)" font-size="38.889">p</text><text class="serif" transform="matrix(1.3396 0 0 1.1939 60.186 -0.928)" font-size="38.889">s</text><text class="mono" transform="matrix(1.0782 0 0 1.0408 80.161 -0.975)" font-size="38.889">n</text><text class="mono" transform="matrix(0.8496 0 0 1.0408 104.086 -1.025)" font-size="38.889">r</text></g>
</g>
</svg></body></html>
